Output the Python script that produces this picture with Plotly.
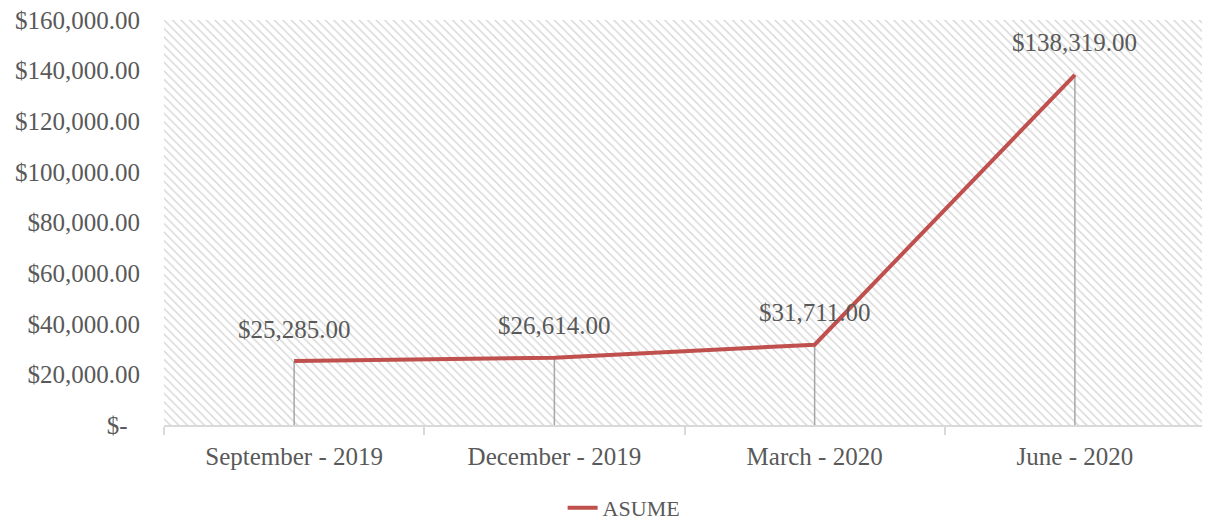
import plotly.graph_objects as go

periods = ["September - 2019", "December - 2019", "March - 2020", "June - 2020"]
asume = [25285, 26614, 31711, 138319]
y_ticks = [0, 20000, 40000, 60000, 80000, 100000, 120000, 140000, 160000]
y_ticktext = ["$-\u00a0\u00a0"] + [f"${v:,.2f}" for v in y_ticks[1:]]

FONT = "Liberation Serif"
GREY_TEXT = "#595959"
RED = "#C0504D"

fig = go.Figure()

# hatched plot background: one pattern-filled bar on hidden base axes
fig.add_trace(go.Bar(
    x=[0.5], y=[1], width=[1],
    marker=dict(color="white", line=dict(width=0),
                pattern=dict(shape="\\", fgcolor="#d4d4d4", bgcolor="white",
                             size=6, solidity=0.22, fillmode="replace")),
    hoverinfo="skip", showlegend=False, xaxis="x", yaxis="y",
))

# the series itself, with grey drop lines down to the axis
fig.add_trace(go.Scatter(
    x=periods, y=asume, name="ASUME", mode="lines",
    line=dict(color=RED, width=4),
    error_y=dict(type="data", symmetric=False, array=[0] * len(asume),
                 arrayminus=asume, color="#A6A6A6", thickness=1.5, width=0),
    xaxis="x2", yaxis="y2",
))

for p, v in zip(periods, asume):
    fig.add_annotation(x=p, y=v, xref="x2", yref="y2", yshift=32,
                       text=f"${v:,.2f}", showarrow=False,
                       font=dict(family=FONT, size=25, color=GREY_TEXT))

# page body adds an 8px margin, so the figure is sized to fit the window
fig.update_layout(
    width=1202, height=513,
    margin=dict(l=156, r=5, t=12, b=96, autoexpand=False),
    paper_bgcolor="white", plot_bgcolor="white",
    font=dict(family=FONT, size=25, color=GREY_TEXT),
    bargap=0,
    xaxis=dict(range=[0, 1], visible=False, fixedrange=True, automargin=False),
    yaxis=dict(range=[0, 1], visible=False, fixedrange=True, automargin=False),
    xaxis2=dict(overlaying="x", anchor="y2", type="category", automargin=False,
                range=[-0.5, 3.5], showgrid=False, zeroline=False,
                showline=True, linecolor="#d9d9d9", linewidth=1.5,
                tickson="boundaries", ticks="outside", ticklen=8,
                tickcolor="#d9d9d9", tickwidth=1.5, ticklabelstandoff=8,
                tickfont=dict(size=25, color=GREY_TEXT)),
    yaxis2=dict(overlaying="y", anchor="x2", side="left", automargin=False,
                range=[0, 160000], tickvals=y_ticks, ticktext=y_ticktext,
                showgrid=False, zeroline=False, showline=False,
                ticks="", ticklabelstandoff=23, ticklabeloverflow="allow",
                tickfont=dict(size=25, color=GREY_TEXT)),
    legend=dict(orientation="h", x=0.442, xanchor="center", y=-0.205,
                yanchor="middle", font=dict(size=22, color=GREY_TEXT)),
    hovermode=False,
)

fig.write_html("out.html")
